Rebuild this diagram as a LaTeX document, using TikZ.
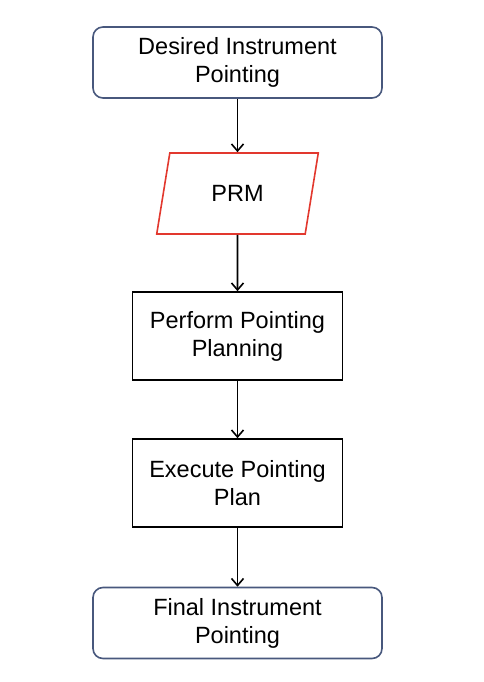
\documentclass[tikz,border=0pt]{standalone}
\usepackage{fontspec}
\setmainfont{Liberation Sans}
\usetikzlibrary{shapes.geometric,positioning,arrows.meta}
\definecolor{termblue}{RGB}{72,88,125}
\definecolor{prmred}{RGB}{226,56,46}
\begin{document}
\begin{tikzpicture}[x=1pt,y=1pt,on grid,line width=1.6pt,
    >={Straight Barb[length=7pt,width=12pt]},
    font=\fontsize{23.5}{28}\selectfont,
    term/.style={draw=termblue,rounded corners=10pt,minimum width=289pt,minimum height=71pt,align=center},
    io/.style={draw=prmred,trapezium,trapezium left angle=76,trapezium right angle=104,
      trapezium stretches=true,minimum width=162pt,minimum height=81pt},
    process/.style={draw,minimum width=210pt,minimum height=88pt,align=center}]
        \useasboundingbox (0,0) rectangle (484,-682);
        \node[term] (desired) at (237.5,-62.5) {Desired Instrument\\Pointing};
        \node[io] (prm) [below=131pt of desired] {PRM};
        \node[process] (plan) [below=142.5pt of prm] {Perform Pointing\\Planning};
        \node[process] (exec) [below=147pt of plan] {Execute Pointing\\Plan};
        \node[term] (final) [below=140pt of exec] {Final Instrument\\Pointing};
         \path[->]
         (desired) edge (prm)
         (prm) edge (plan)
         (plan) edge (exec)
         (exec) edge (final);
     \end{tikzpicture}
\end{document}
